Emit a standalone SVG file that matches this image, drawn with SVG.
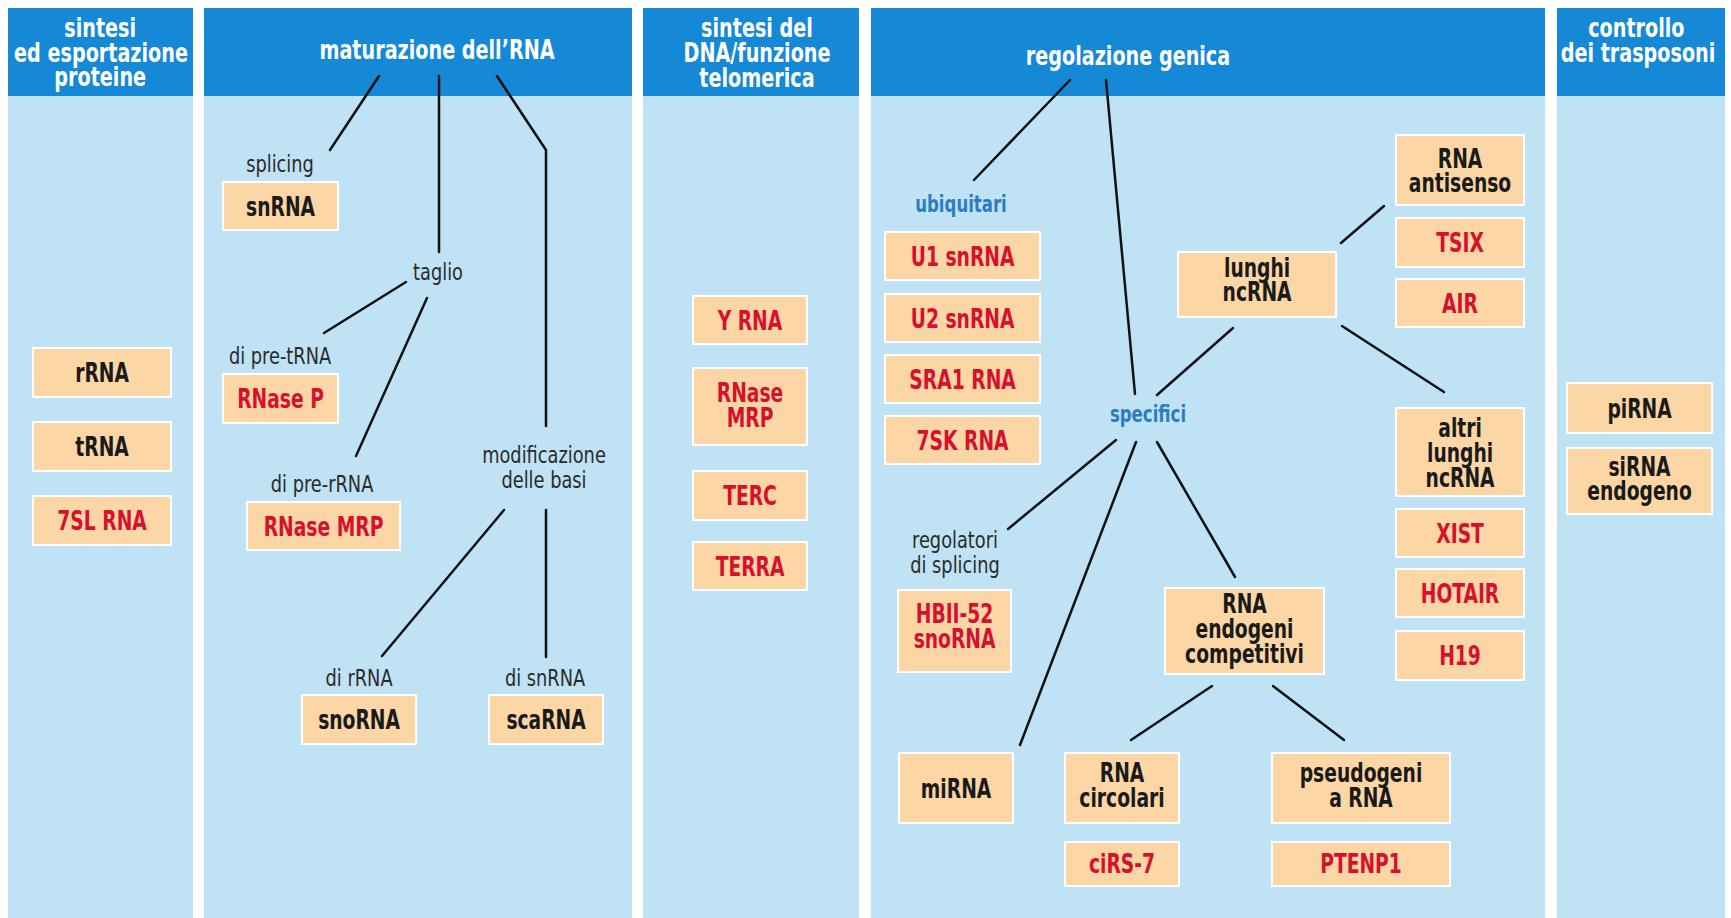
<svg xmlns="http://www.w3.org/2000/svg" width="1731" height="918" viewBox="0 0 1731 918">
<style>
.bg{fill:#ffffff}
.body{fill:#bfe3f5}
.hdr{fill:#1589d6}
.box{fill:#fcd6a5;stroke:#ffffff;stroke-width:2}
text{font-family:'DejaVu Sans Condensed','DejaVu Sans','Liberation Sans',sans-serif;text-anchor:middle;transform-box:fill-box;transform-origin:center}
.h{font-weight:bold;font-size:26px;fill:#ffffff;transform:scaleX(0.82)}
.b{font-weight:bold;font-size:26px;fill:#1a1a1a;transform:scaleX(0.8)}
.r{fill:#d7102e}
.l{font-size:23px;fill:#2b2b2b;transform:scaleX(0.86)}
.u{font-weight:bold;font-size:23px;fill:#2c7cc0;transform:scaleX(0.8)}
.c{stroke:#111111;stroke-width:2.5;fill:none;stroke-linecap:round;stroke-linejoin:round}
</style>
<rect class="bg" x="0" y="0" width="1731" height="918"/>
<g id="columns">
<rect class="body" x="8" y="8" width="185" height="910"/>
<rect class="hdr" x="8" y="8" width="185" height="88"/>
<rect class="body" x="204" y="8" width="428" height="910"/>
<rect class="hdr" x="204" y="8" width="428" height="88"/>
<rect class="body" x="643" y="8" width="216" height="910"/>
<rect class="hdr" x="643" y="8" width="216" height="88"/>
<rect class="body" x="871" y="8" width="674" height="910"/>
<rect class="hdr" x="871" y="8" width="674" height="88"/>
<rect class="body" x="1557" y="8" width="168" height="910"/>
<rect class="hdr" x="1557" y="8" width="168" height="88"/>
</g>
<g id="headers">
<text class="h"><tspan x="100" y="37">sintesi</tspan><tspan x="101" y="62">ed esportazione</tspan><tspan x="100" y="86">proteine</tspan></text>
<text class="h" x="437" y="59">maturazione dell’RNA</text>
<text class="h"><tspan x="757" y="37">sintesi del</tspan><tspan x="757" y="62">DNA/funzione</tspan><tspan x="757" y="87">telomerica</tspan></text>
<text class="h" x="1128" y="65">regolazione genica</text>
<text class="h"><tspan x="1636" y="37">controllo</tspan><tspan x="1638" y="62">dei trasposoni</tspan></text>
</g>
<g id="connectors">
<line class="c" x1="379" y1="76" x2="330" y2="150"/>
<line class="c" x1="439" y1="76" x2="439" y2="252"/>
<polyline class="c" points="497,76 546,150 546,426"/>
<line class="c" x1="406" y1="282" x2="324" y2="333"/>
<line class="c" x1="427" y1="298" x2="356" y2="456"/>
<line class="c" x1="504" y1="510" x2="382" y2="656"/>
<line class="c" x1="546" y1="510" x2="546" y2="657"/>
<line class="c" x1="1070" y1="80" x2="974" y2="180"/>
<line class="c" x1="1106" y1="80" x2="1135" y2="394"/>
<line class="c" x1="1157" y1="395" x2="1233" y2="328"/>
<line class="c" x1="1341" y1="243" x2="1384" y2="206"/>
<line class="c" x1="1342" y1="326" x2="1444" y2="392"/>
<line class="c" x1="1116" y1="440" x2="1008" y2="529"/>
<line class="c" x1="1136" y1="442" x2="1020" y2="745"/>
<line class="c" x1="1157" y1="442" x2="1235" y2="577"/>
<line class="c" x1="1212" y1="686" x2="1131" y2="740"/>
<line class="c" x1="1273" y1="686" x2="1344" y2="740"/>
</g>
<g id="labels">
<text class="l" x="280" y="172">splicing</text>
<text class="l" x="438" y="280">taglio</text>
<text class="l" x="280" y="364">di pre-tRNA</text>
<text class="l" x="322" y="492">di pre-rRNA</text>
<text class="l"><tspan x="544" y="463">modificazione</tspan><tspan x="544" y="488">delle basi</tspan></text>
<text class="l" x="359" y="686">di rRNA</text>
<text class="l" x="545" y="686">di snRNA</text>
<text class="l"><tspan x="955" y="548">regolatori</tspan><tspan x="955" y="573">di splicing</tspan></text>
<text class="u" x="961" y="212">ubiquitari</text>
<text class="u" x="1148" y="422">specifici</text>
</g>
<g id="n-rRNA"><rect class="box" x="33" y="348" width="138" height="49"/><text class="b" x="102" y="382">rRNA</text></g>
<g id="n-tRNA"><rect class="box" x="33" y="422" width="138" height="49"/><text class="b" x="102" y="456">tRNA</text></g>
<g id="n-7SL"><rect class="box" x="33" y="496" width="138" height="49"/><text class="b r" x="102" y="530">7SL RNA</text></g>
<g id="n-snRNA"><rect class="box" x="223" y="182" width="115" height="48"/><text class="b" x="280.5" y="216">snRNA</text></g>
<g id="n-RNaseP"><rect class="box" x="223" y="374" width="115" height="49"/><text class="b r" x="280.5" y="408">RNase P</text></g>
<g id="n-RNaseMRP"><rect class="box" x="247" y="502" width="153" height="48"/><text class="b r" x="323.5" y="536">RNase MRP</text></g>
<g id="n-snoRNA"><rect class="box" x="302" y="695" width="114" height="49"/><text class="b" x="359" y="729">snoRNA</text></g>
<g id="n-scaRNA"><rect class="box" x="489" y="695" width="114" height="49"/><text class="b" x="546" y="729">scaRNA</text></g>
<g id="n-YRNA"><rect class="box" x="693" y="296" width="114" height="48"/><text class="b r" x="750" y="330">Y RNA</text></g>
<g id="n-RNaseMRP2"><rect class="box" x="693" y="368" width="114" height="77"/><text class="b r"><tspan x="750" y="402">RNase</tspan><tspan x="750" y="427">MRP</tspan></text></g>
<g id="n-TERC"><rect class="box" x="693" y="471" width="114" height="49"/><text class="b r" x="750" y="505">TERC</text></g>
<g id="n-TERRA"><rect class="box" x="693" y="542" width="114" height="48"/><text class="b r" x="750" y="576">TERRA</text></g>
<g id="n-U1"><rect class="box" x="885" y="232" width="155" height="48"/><text class="b r" x="962.5" y="266">U1 snRNA</text></g>
<g id="n-U2"><rect class="box" x="885" y="294" width="155" height="48"/><text class="b r" x="962.5" y="328">U2 snRNA</text></g>
<g id="n-SRA1"><rect class="box" x="885" y="355" width="155" height="48"/><text class="b r" x="962.5" y="389">SRA1 RNA</text></g>
<g id="n-7SK"><rect class="box" x="885" y="416" width="155" height="48"/><text class="b r" x="962.5" y="450">7SK RNA</text></g>
<g id="n-HBII52"><rect class="box" x="898" y="590" width="113" height="82"/><text class="b r"><tspan x="954.5" y="623">HBII-52</tspan><tspan x="954.5" y="648">snoRNA</tspan></text></g>
<g id="n-miRNA"><rect class="box" x="899" y="753" width="114" height="70"/><text class="b" x="956" y="798">miRNA</text></g>
<g id="n-circ"><rect class="box" x="1065" y="753" width="114" height="70"/><text class="b"><tspan x="1122" y="782">RNA</tspan><tspan x="1122" y="807">circolari</tspan></text></g>
<g id="n-ciRS7"><rect class="box" x="1065" y="842" width="114" height="44"/><text class="b r" x="1122" y="873">ciRS-7</text></g>
<g id="n-ceRNA"><rect class="box" x="1165" y="588" width="159" height="86"/><text class="b"><tspan x="1244.5" y="613">RNA</tspan><tspan x="1244.5" y="638">endogeni</tspan><tspan x="1244.5" y="663">competitivi</tspan></text></g>
<g id="n-pseudo"><rect class="box" x="1272" y="753" width="178" height="70"/><text class="b"><tspan x="1361" y="782">pseudogeni</tspan><tspan x="1361" y="807">a RNA</tspan></text></g>
<g id="n-PTENP1"><rect class="box" x="1272" y="842" width="178" height="44"/><text class="b r" x="1361" y="873">PTENP1</text></g>
<g id="n-lunghi"><rect class="box" x="1178" y="252" width="158" height="65"/><text class="b"><tspan x="1257" y="277">lunghi</tspan><tspan x="1257" y="301">ncRNA</tspan></text></g>
<g id="n-antisenso"><rect class="box" x="1396" y="135" width="128" height="70"/><text class="b"><tspan x="1460" y="168">RNA</tspan><tspan x="1460" y="192">antisenso</tspan></text></g>
<g id="n-TSIX"><rect class="box" x="1396" y="218" width="128" height="49"/><text class="b r" x="1460" y="252">TSIX</text></g>
<g id="n-AIR"><rect class="box" x="1396" y="279" width="128" height="48"/><text class="b r" x="1460" y="313">AIR</text></g>
<g id="n-altri"><rect class="box" x="1396" y="408" width="128" height="88"/><text class="b"><tspan x="1460" y="437">altri</tspan><tspan x="1460" y="462">lunghi</tspan><tspan x="1460" y="487">ncRNA</tspan></text></g>
<g id="n-XIST"><rect class="box" x="1396" y="509" width="128" height="48"/><text class="b r" x="1460" y="543">XIST</text></g>
<g id="n-HOTAIR"><rect class="box" x="1396" y="569" width="128" height="48"/><text class="b r" x="1460" y="603">HOTAIR</text></g>
<g id="n-H19"><rect class="box" x="1396" y="631" width="128" height="49"/><text class="b r" x="1460" y="665">H19</text></g>
<g id="n-piRNA"><rect class="box" x="1567" y="383" width="145" height="50"/><text class="b" x="1639.5" y="418">piRNA</text></g>
<g id="n-siRNA"><rect class="box" x="1567" y="448" width="145" height="66"/><text class="b"><tspan x="1639.5" y="476">siRNA</tspan><tspan x="1639.5" y="500">endogeno</tspan></text></g>
</svg>
